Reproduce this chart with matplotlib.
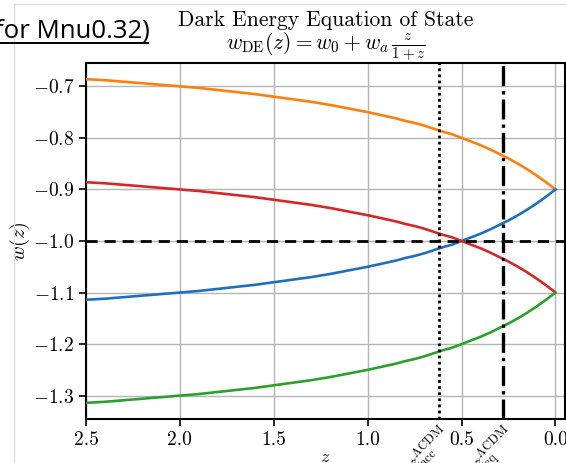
"""
Dark energy equation of state w(z) for four (w0, wa) choices, redrawn
from a slide screenshot (x axis runs from high z on the left to z=0).
"""
import matplotlib
matplotlib.use("Agg")
import matplotlib.pyplot as plt
from matplotlib.lines import Line2D

# ---------------------------------------------------------------------------
# Data
# ---------------------------------------------------------------------------
z = [0.0, 0.05, 0.1, 0.15, 0.2, 0.25, 0.3, 0.35, 0.4, 0.45, 0.5, 0.55,
     0.6, 0.65, 0.7, 0.75, 0.8, 0.85, 0.9, 0.95, 1.0, 1.1, 1.2, 1.3, 1.4,
     1.5, 1.6, 1.7, 1.8, 1.9, 2.0, 2.1, 2.2, 2.3, 2.4, 2.5]

w_orange = [-0.900, -0.886, -0.873, -0.861, -0.850, -0.840, -0.831, -0.822,
            -0.814, -0.807, -0.800, -0.793, -0.788, -0.782, -0.776, -0.771,
            -0.767, -0.762, -0.758, -0.754, -0.750, -0.743, -0.736, -0.730,
            -0.725, -0.720, -0.715, -0.711, -0.707, -0.703, -0.700, -0.697,
            -0.694, -0.691, -0.688, -0.686]
w_blue = [-0.900, -0.914, -0.927, -0.939, -0.950, -0.960, -0.969, -0.978,
          -0.986, -0.993, -1.000, -1.007, -1.012, -1.018, -1.024, -1.029,
          -1.033, -1.038, -1.042, -1.046, -1.050, -1.057, -1.064, -1.070,
          -1.075, -1.080, -1.085, -1.089, -1.093, -1.097, -1.100, -1.103,
          -1.106, -1.109, -1.112, -1.114]
w_red = [-1.100, -1.086, -1.073, -1.061, -1.050, -1.040, -1.031, -1.022,
         -1.014, -1.007, -1.000, -0.993, -0.988, -0.982, -0.976, -0.971,
         -0.967, -0.962, -0.958, -0.954, -0.950, -0.943, -0.936, -0.930,
         -0.925, -0.920, -0.915, -0.911, -0.907, -0.903, -0.900, -0.897,
         -0.894, -0.891, -0.888, -0.886]
w_green = [-1.100, -1.114, -1.127, -1.139, -1.150, -1.160, -1.169, -1.178,
           -1.186, -1.193, -1.200, -1.207, -1.212, -1.218, -1.224, -1.229,
           -1.233, -1.238, -1.242, -1.246, -1.250, -1.257, -1.264, -1.270,
           -1.275, -1.280, -1.285, -1.289, -1.293, -1.297, -1.300, -1.303,
           -1.306, -1.309, -1.312, -1.314]

w_lcdm = -1.0
z_acc = 0.62
z_eq = 0.28

x_ticks = [2.5, 2.0, 1.5, 1.0, 0.5, 0.0]
y_ticks = [-0.7, -0.8, -0.9, -1.0, -1.1, -1.2, -1.3]
special_labels = [r"$z_{\rm acc}^{\Lambda{\rm CDM}}$",
                  r"$z_{\rm eq}^{\Lambda{\rm CDM}}$"]

# ---------------------------------------------------------------------------
# Figure
# ---------------------------------------------------------------------------
plt.rcParams.update({
    "font.family": "serif",
    "font.serif": ["cmr10"],
    "mathtext.fontset": "cm",
    "axes.formatter.use_mathtext": True,
    "font.size": 13,
    "axes.linewidth": 1.5,
})

fig = plt.figure(figsize=(5.66, 4.63), dpi=100)
ax = fig.add_axes([0.152, 0.095, 0.846, 0.769])

for w, col in [(w_orange, "#ff7f0e"), (w_blue, "#1f6fbf"),
               (w_red, "#d62728"), (w_green, "#2ca02c")]:
    ax.plot(z, w, color=col, lw=1.9, zorder=3)

ax.axhline(w_lcdm, color="black", lw=2.0, ls=(0, (4, 2.5)), zorder=4)
ax.axvline(z_acc, color="black", lw=2.0, ls=(0, (1, 1.2)), zorder=4)
ax.axvline(z_eq, color="black", lw=2.4, ls=(0, (6, 1.5, 1, 1.5)), zorder=4)

ax.set_xlim(2.5, -0.05)
ax.margins(y=0.05)
ax.set_xticks(x_ticks)
ax.set_xticklabels([f"{v:.1f}" for v in x_ticks])
ax.set_yticks(y_ticks)
ax.set_xticks([z_acc, z_eq], minor=True)
ax.set_xticklabels(special_labels, minor=True, fontsize=13)
for lab in ax.get_xticklabels(minor=True):
    lab.set_rotation(45)
    lab.set_rotation_mode("anchor")
    lab.set_ha("right")
    lab.set_va("top")
ax.tick_params(axis="x", which="minor", length=0, pad=3)
ax.tick_params(which="major", length=5, width=1.2, labelsize=14)
ax.grid(True, which="major", color="#b5b5b5", lw=1.0, zorder=1)

ax.set_ylabel(r"$w(z)$", fontsize=14.5)
ax.yaxis.set_label_coords(-0.113, 0.5)
ax.set_xlabel(r"$z$", fontsize=13)
ax.xaxis.set_label_coords(0.5, -0.085)
ax.xaxis.label.set_va("top")

ax.set_title("Dark Energy Equation of State\n"
             r"$w_{\rm DE}(z) = w_0 + w_a\,\frac{z}{1+z}$",
             fontsize=15.5, pad=4, linespacing=1.05)

# slide frame and the cut-off slide text at the top left
fig.add_artist(Line2D([0.025, 0.025], [0.0, 0.991], color="#dcdcdc", lw=1.0))
fig.add_artist(Line2D([0.025, 1.0], [0.991, 0.991], color="#dcdcdc", lw=1.0))
fig.text(-0.008, 0.918, "for Mnu0.32)", family="Open Sans", fontsize=18.5,
         ha="left", va="baseline", color="black")
fig.add_artist(Line2D([0.0, 0.262], [0.908, 0.908], color="black", lw=1.4))

fig.savefig("out.png", dpi=100)
